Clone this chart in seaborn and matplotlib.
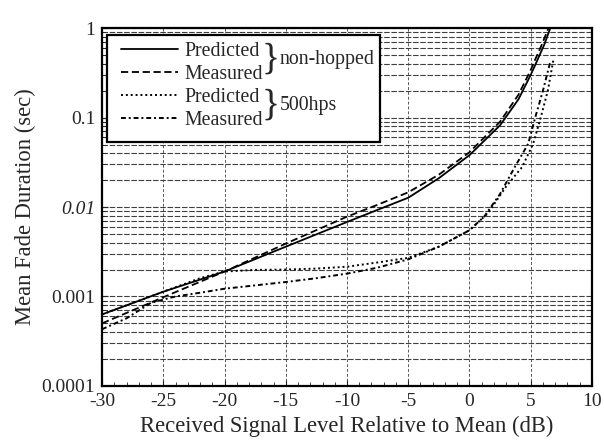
import matplotlib
matplotlib.use("Agg")
import matplotlib.pyplot as plt
import matplotlib.ticker as mticker
from matplotlib.patches import Rectangle
import seaborn as sns

sns.set_style("ticks")
plt.rcParams["font.family"] = ["Liberation Serif", "DejaVu Serif"]
plt.rcParams["axes.unicode_minus"] = False

# ── data (dB vs seconds) ─────────────────────────────────────────────────────
nh_pred_x = [-30, -25, -20, -15, -10, -7.5, -5, -2.5, 0, 2.5, 4, 5, 5.55, 6.1, 6.6]
nh_pred_y = [0.00063, 0.00113, 0.0019, 0.0036, 0.0068, 0.0093, 0.0127, 0.021,
             0.038, 0.082, 0.16, 0.30, 0.44, 0.65, 1.0]

nh_meas_x = [-30, -25, -20, -15, -10, -7.5, -5, -2.5, 0, 2.5, 4, 5, 5.35, 5.9, 6.45]
nh_meas_y = [0.0005, 0.00098, 0.0019, 0.0039, 0.0078, 0.0106, 0.0146, 0.023,
             0.041, 0.09, 0.18, 0.34, 0.44, 0.65, 1.0]

hp_pred_x = [-30, -25, -22, -20, -17.5, -15, -12.5, -10, -7.5, -5, -2.5, 0,
             1.5, 3, 4.3, 5.2, 5.8, 6.4, 6.85]
hp_pred_y = [0.00063, 0.00113, 0.0016, 0.0019, 0.00198, 0.0020, 0.00205,
             0.00215, 0.0024, 0.0027, 0.0036, 0.0055, 0.0085, 0.017, 0.028,
             0.051, 0.098, 0.2, 0.44]

hp_meas_x = [-30, -28, -26, -24, -22, -20, -17.5, -15, -12.5, -10, -7.5, -5,
             -2.5, 0, 1.2, 2.5, 3.7, 4.8, 5.35, 6.0, 6.6]
hp_meas_y = [0.00043, 0.00057, 0.00085, 0.001, 0.0011, 0.00122, 0.00133,
             0.00145, 0.0016, 0.0018, 0.0021, 0.0026, 0.0036, 0.0055, 0.0078,
             0.014, 0.028, 0.051, 0.098, 0.2, 0.42]

y_ticks = [0.0001, 0.001, 0.01, 0.1, 1]
y_tick_labels = ["0.0001", "0.001", "0.01", "0.1", "1"]
x_ticks = [-30, -25, -20, -15, -10, -5, 0, 5, 10]

fig, ax = plt.subplots(figsize=(6.04, 4.4), dpi=100)
fig.subplots_adjust(left=0.169, right=0.980, top=0.936, bottom=0.123)

sns.lineplot(x=nh_pred_x, y=nh_pred_y, ax=ax, color="k", lw=1.3,
             linestyle="-", label="Predicted", sort=False)
sns.lineplot(x=nh_meas_x, y=nh_meas_y, ax=ax, color="k", lw=1.3,
             linestyle=(0, (4, 2)), label="Measured", sort=False)
sns.lineplot(x=hp_pred_x, y=hp_pred_y, ax=ax, color="k", lw=1.4,
             linestyle=(0, (1, 1.5)), label="Predicted", sort=False)
sns.lineplot(x=hp_meas_x, y=hp_meas_y, ax=ax, color="k", lw=1.4,
             linestyle=(0, (2.5, 1.5, 1, 1.5)), label="Measured", sort=False)

ax.set_yscale("log")
ax.set_ylim(1e-4, 1)
ax.set_xlim(-30, 10)
ax.set_yticks(y_ticks)
ax.yaxis.set_major_formatter(mticker.FixedFormatter(y_tick_labels))
ax.yaxis.set_minor_locator(mticker.LogLocator(base=10, subs=range(2, 10)))
ax.yaxis.set_minor_formatter(mticker.NullFormatter())
ax.set_xticks(x_ticks)
ax.set_xticklabels([str(v) for v in x_ticks])
ax.xaxis.set_minor_locator(mticker.MultipleLocator(1))

ax.grid(True, which="both", axis="y", color="0.25", lw=0.8, linestyle=(0, (5, 1.5)))
ax.grid(True, which="major", axis="x", color="0.35", lw=0.7, linestyle=(0, (3, 2)))

ax.tick_params(which="both", direction="in", labelsize=14, pad=5)
ax.tick_params(which="major", length=4)
ax.tick_params(which="minor", length=3)
for lab in ax.get_yticklabels():
    if lab.get_text() == "0.01":
        lab.set_style("italic")
for s in ax.spines.values():
    s.set_linewidth(1.6)
    s.set_color("k")

ax.set_xlabel("Received Signal Level Relative to Mean (dB)", fontsize=16.3)
ax.set_ylabel("Mean Fade Duration (sec)", fontsize=16.3)

# legend box with group braces
ax.add_patch(Rectangle((0.01, 0.682), 0.557, 0.298, transform=ax.transAxes,
                       facecolor="white", edgecolor="k", lw=1.6, zorder=3))
leg = ax.legend(loc="upper left", bbox_to_anchor=(0.022, 0.983), frameon=False,
                fontsize=14.3, handlelength=2.9, handletextpad=0.3,
                labelspacing=0.2, borderaxespad=0.0)
leg.set_zorder(4)

for yc, grp in [(0.912, "non-hopped"), (0.784, "500hps")]:
    ax.text(0.363, yc, "}", transform=ax.transAxes, fontsize=27,
            va="center", ha="right", zorder=5)
    ax.text(0.362, yc, grp, transform=ax.transAxes, fontsize=14.3,
            va="center", ha="left", zorder=5)

plt.savefig("out.png", dpi=100)
plt.close()
